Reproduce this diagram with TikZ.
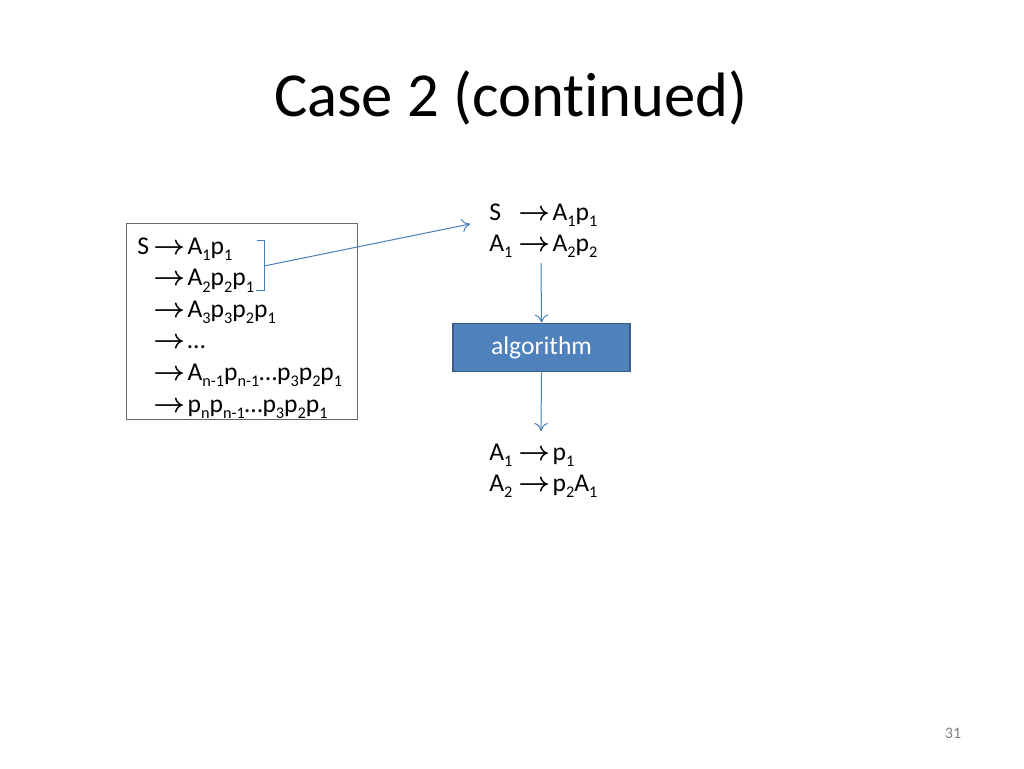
\documentclass[tikz,border=0pt]{standalone}
\usepackage{fontspec}
\setmainfont[Ligatures=CommonOff]{Carlito}
\usetikzlibrary{arrows.meta}
\definecolor{lnblue}{HTML}{4A7EBB}
\definecolor{boxfill}{HTML}{4F81BD}
\definecolor{boxline}{HTML}{385D8A}
\newcommand\dn[1]{\raisebox{-0.25em}{\fontsize{12.2}{12.2}\selectfont #1}}
\newcommand\ar{{\boldmath$\rightarrow$}\hspace{0.1em}}
\tikzset{
  body/.style={font=\fontsize{19.2}{19.2}\selectfont, inner sep=0pt, anchor=base west},
  conn/.style={draw=lnblue, line width=0.75pt, -{To[length=6pt,width=10pt]}},
}
\begin{document}
\begin{tikzpicture}[x=0.75pt,y=-0.75pt]
\useasboundingbox (0,0) rectangle (1024,768);
% title
\node[font=\fontsize{47}{47}\selectfont, inner sep=0pt, anchor=base] (title) at (511,116) {Case 2 (continued)};
% left box
\node[draw=gray!80!black, line width=0.6pt, minimum width=231*0.75pt, minimum height=196*0.75pt, anchor=north west, inner sep=0pt] (lbox) at (126,223) {};
\node[body] (l0s) at (137,254) {S};
\node[body] (l0) at (153,254) {\ar A\dn{1}p\dn{1}};
\node[body] (l1) at (153,285.6) {\ar A\dn{2}p\dn{2}p\dn{1}};
\node[body] (l2) at (153,317.2) {\ar A\dn{3}p\dn{3}p\dn{2}p\dn{1}};
\node[body] (l3) at (153,348.8) {\ar …};
\node[body] (l4) at (153,380.4) {\ar A\dn{n-1}p\dn{n-1}…p\dn{3}p\dn{2}p\dn{1}};
\node[body] (l5) at (153,412) {\ar p\dn{n}p\dn{n-1}…p\dn{3}p\dn{2}p\dn{1}};
% bracket
\coordinate (bt) at (264,240);
\coordinate (bb) at (264,290);
\coordinate (bm) at (264,266);
\draw[lnblue, line width=0.75pt] (257,240) -- (bt) -- (bb) -- (256,290);
% right top text
\node[body] (r0s) at (489,220) {S};
\node[body] (r0) at (518,220) {\ar A\dn{1}p\dn{1}};
\node[body] (r1s) at (489,251) {A\dn{1}};
\node[body] (r1) at (518,251) {\ar A\dn{2}p\dn{2}};
\coordinate (tgt) at (470,224);
\draw[conn] (bm) -- (tgt);
% algorithm box
\node[draw=boxline, fill=boxfill, line width=1.3pt, minimum width=177*0.75pt, minimum height=48*0.75pt, inner sep=0pt, text=white, font=\fontsize{19.2}{19.2}\selectfont] (alg) at (541.5,347.5) {algorithm};
\coordinate (a1s) at (541,263);
\draw[conn] (a1s) -- (alg.north);
\coordinate (a2e) at (541,431);
\draw[conn] (alg.south) -- (a2e);
% bottom text
\node[body] (b0s) at (489,460) {A\dn{1}};
\node[body] (b0) at (518,460) {\ar p\dn{1}};
\node[body] (b1s) at (489,491) {A\dn{2}};
\node[body] (b1) at (518,491) {\ar p\dn{2}A\dn{1}};
% page number
\node[font=\fontsize{12}{12}\selectfont, text=gray, inner sep=0pt, anchor=base] (pg) at (953,738) {31};
\end{tikzpicture}
\end{document}
